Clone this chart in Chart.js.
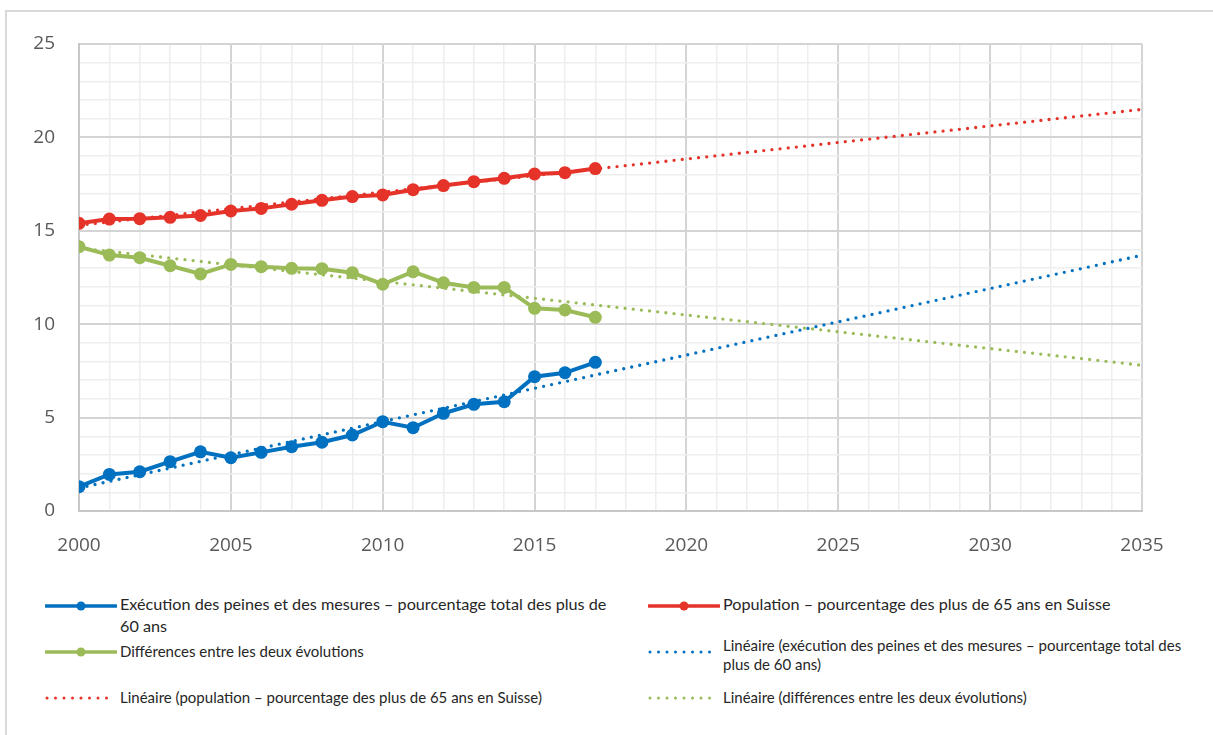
<!DOCTYPE html>
<html>
<head>
<meta charset="utf-8">
<script src="https://cdn.jsdelivr.net/npm/chart.js@4.4.1/dist/chart.umd.min.js"></script>
<style>
  html, body { margin: 0; padding: 0; background: #fff; }
  body { width: 1213px; height: 735px; position: relative; overflow: hidden; font-family: Lato, "Liberation Sans", sans-serif; }
  #frame { position: absolute; left: 5px; top: 10px; width: 1300px; height: 800px; border-top: 2px solid #d9d9d9; border-left: 2px solid #d9d9d9; }
  #wrap { position: absolute; left: 0; top: 0; width: 1213px; height: 560px; }
  .sw { position: absolute; width: 72px; height: 14px; }
  .lt { position: absolute; color: #262626; white-space: pre; }
</style>
</head>
<body>
<div id="frame"></div>
<div id="wrap"><canvas id="chart"></canvas></div>
<div id="legend"></div>
<script>
// Years with observed values
const years = [2000, 2001, 2002, 2003, 2004, 2005, 2006, 2007, 2008, 2009, 2010, 2011, 2012, 2013, 2014, 2015, 2016, 2017];

const execution = [1.30, 1.96, 2.10, 2.64, 3.17, 2.85, 3.14, 3.44, 3.68, 4.07, 4.78, 4.46, 5.23, 5.71, 5.85, 7.19, 7.40, 7.96];
const population = [15.40, 15.63, 15.65, 15.72, 15.82, 16.06, 16.20, 16.42, 16.63, 16.83, 16.92, 17.20, 17.42, 17.63, 17.81, 18.04, 18.11, 18.33];
const differences = [14.15, 13.70, 13.56, 13.13, 12.69, 13.20, 13.08, 12.99, 12.97, 12.76, 12.14, 12.81, 12.22, 11.97, 11.97, 10.85, 10.76, 10.37];

// Linear trend lines, start and end
const trendYears = [2000, 2035];
const executionTrend = [1.23, 13.69];
const populationTrend = [15.30, 21.50];
const differencesTrend = [14.08, 7.80];

// Axis tick labels
const xTicks = [2000, 2005, 2010, 2015, 2020, 2025, 2030, 2035];
const yTicks = [0, 5, 10, 15, 20, 25];

const labels = [
    "Exécution des peines et des mesures – pourcentage total des plus de\n60 ans",
    "Population – pourcentage des plus de 65 ans en Suisse",
    "Différences entre les deux évolutions",
    "Linéaire (exécution des peines et des mesures – pourcentage total des\nplus de 60 ans)",
    "Linéaire (population – pourcentage des plus de 65 ans en Suisse)",
    "Linéaire (différences entre les deux évolutions)"
];

const BLUE = '#0070c0';
const RED = '#e6332a';
const GREEN = '#9bbb59';

function pairs(xs, ys) {
    return xs.map((x, i) => ({ x: x, y: ys[i] }));
}

function solid(label, values, color) {
    return {
        label: label,
        data: pairs(years, values),
        borderColor: color,
        backgroundColor: color,
        borderWidth: 4,
        pointRadius: 6.5,
        pointBorderWidth: 0,
        pointBackgroundColor: color,
        order: 1
    };
}

function trend(label, values, color) {
    return {
        label: label,
        data: pairs(trendYears, values),
        borderColor: color,
        borderWidth: 3.3,
        borderDash: [0, 8.2],
        borderCapStyle: 'round',
        pointRadius: 0,
        order: 2
    };
}

const MAJOR = '#d4d4d4';
const MINOR = '#eeeeee';

const ctx = document.getElementById('chart').getContext('2d');
const chart = new Chart(ctx, {
    type: 'line',
    data: {
        datasets: [
            solid(labels[0], execution, BLUE),
            solid(labels[1], population, RED),
            solid(labels[2], differences, GREEN),
            trend(labels[3], executionTrend, BLUE),
            trend(labels[4], populationTrend, RED),
            trend(labels[5], differencesTrend, GREEN)
        ]
    },
    options: {
        responsive: true,
        maintainAspectRatio: false,
        animation: false,
        layout: { padding: { left: 0, top: 44, right: 71, bottom: 0 } },
        plugins: {
            legend: { display: false },
            tooltip: { enabled: false }
        },
        scales: {
            x: {
                type: 'linear',
                min: 2000,
                max: 2035,
                afterFit: (scale) => { scale.height = 49; },
                ticks: {
                    stepSize: 1,
                    autoSkip: false,
                    maxRotation: 0,
                    padding: 23,
                    color: '#595959',
                    font: { family: '"Open Sans", sans-serif', size: 19 },
                    callback: (v) => xTicks.includes(v) ? String(v) : ''
                },
                grid: {
                    drawTicks: false,
                    lineWidth: (c) => xTicks.includes(c.tick.value) ? 2 : 1.5,
                    color: (c) => xTicks.includes(c.tick.value) ? MAJOR : MINOR
                },
                border: { display: true, color: '#c8c8c8', width: 2 }
            },
            y: {
                min: 0,
                max: 25,
                afterFit: (scale) => { scale.width = 79; },
                ticks: {
                    stepSize: 1,
                    autoSkip: false,
                    padding: 24,
                    color: '#595959',
                    font: { family: '"Open Sans", sans-serif', size: 19 },
                    callback: (v) => yTicks.includes(v) ? String(v) : ''
                },
                grid: {
                    drawTicks: false,
                    lineWidth: (c) => yTicks.includes(c.tick.value) ? 2 : 1.5,
                    color: (c) => yTicks.includes(c.tick.value) ? MAJOR : MINOR
                },
                border: { display: true, color: '#c8c8c8', width: 2 }
            }
        }
    }
});

// HTML legend, two columns as in the original
const legendItems = [
    { i: 0, color: BLUE, dotted: false, sx: 45, sy: 606, tx: 120, ty: 593, lh: 22, fs: 16.2 },
    { i: 1, color: RED, dotted: false, sx: 648, sy: 606, tx: 723, ty: 593, lh: 22, fs: 16.2 },
    { i: 2, color: GREEN, dotted: false, sx: 45, sy: 652, tx: 120, ty: 641, lh: 21, fs: 15 },
    { i: 3, color: BLUE, dotted: true, sx: 648, sy: 652, tx: 723, ty: 636, lh: 19, fs: 15 },
    { i: 4, color: RED, dotted: true, sx: 45, sy: 698, tx: 120, ty: 687, lh: 21, fs: 15 },
    { i: 5, color: GREEN, dotted: true, sx: 648, sy: 698, tx: 723, ty: 687, lh: 21, fs: 15 }
];

const legend = document.getElementById('legend');
legendItems.forEach(item => {
    const sw = document.createElementNS('http://www.w3.org/2000/svg', 'svg');
    sw.setAttribute('class', 'sw');
    sw.setAttribute('width', '72');
    sw.setAttribute('height', '14');
    sw.style.left = item.sx + 'px';
    sw.style.top = (item.sy - 7) + 'px';
    if (item.dotted) {
        sw.innerHTML = '<line x1="2" y1="7" x2="70" y2="7" stroke="' + item.color +
            '" stroke-width="3" stroke-linecap="round" stroke-dasharray="0 8.5"/>';
    } else {
        sw.innerHTML = '<line x1="1" y1="7" x2="71" y2="7" stroke="' + item.color +
            '" stroke-width="3.5" stroke-linecap="round"/>' +
            '<circle cx="36" cy="7" r="4.5" fill="' + item.color + '"/>';
    }
    legend.appendChild(sw);

    const t = document.createElement('div');
    t.className = 'lt';
    t.style.left = item.tx + 'px';
    t.style.top = item.ty + 'px';
    t.style.lineHeight = item.lh + 'px';
    t.style.fontSize = item.fs + 'px';
    t.textContent = labels[item.i];
    legend.appendChild(t);
});
</script>
</body>
</html>
